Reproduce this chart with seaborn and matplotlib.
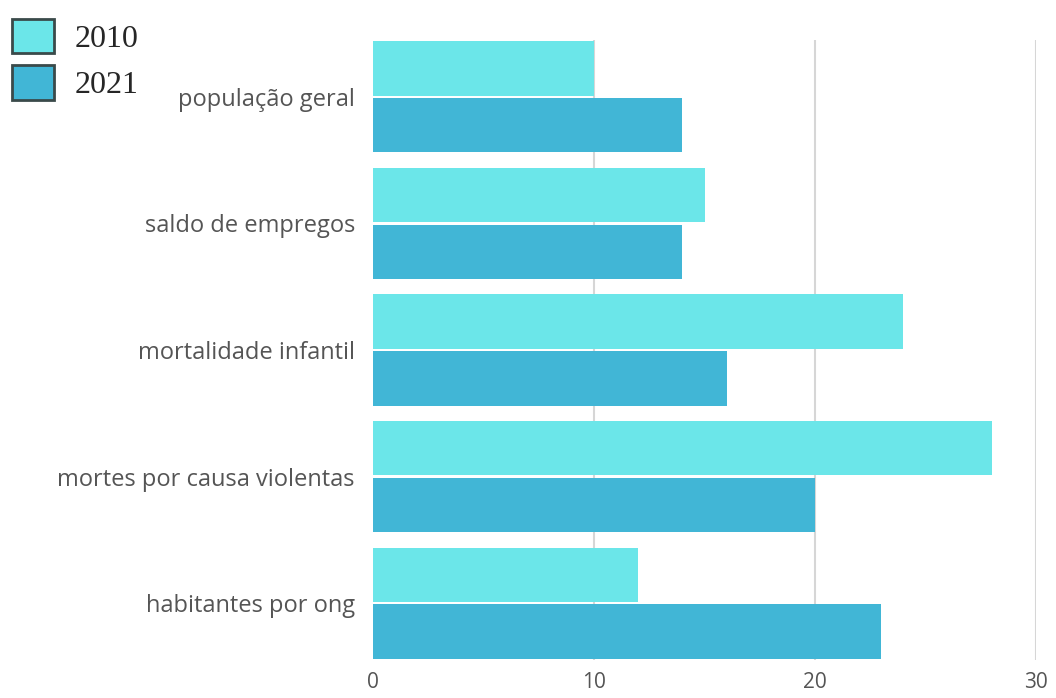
import pandas as pd
import matplotlib.pyplot as plt
import matplotlib.patches as mpatches
import seaborn as sns

# Data
categorias = ['população geral', 'saldo de empregos', 'mortalidade infantil',
              'mortes por causa violentas', 'habitantes por ong']
anos = ['2010', '2021']
valores_2010 = [10, 15, 24, 28, 12]
valores_2021 = [14, 14, 16, 20, 23]

CIANO = "#6BE6E9"
AZUL = "#41B6D6"

df = pd.DataFrame({
    'categoria': categorias * 2,
    'ano': [anos[0]] * len(categorias) + [anos[1]] * len(categorias),
    'valor': valores_2010 + valores_2021,
})

sns.set_theme(style="white")
plt.rcParams['font.family'] = ['Open Sans', 'DejaVu Sans']

fig = plt.figure(figsize=(10.56, 6.98), dpi=100)
ax = fig.add_axes([373/1056, 1 - 660/698, (1036-373)/1056, (660-40)/698])

sns.barplot(data=df, x='valor', y='categoria', hue='ano', orient='h',
            palette=[CIANO, AZUL], width=0.9, gap=0.05, ax=ax,
            legend=False, saturation=1, edgecolor='none', linewidth=0)

ax.set_xlim(0, 30)
ax.set_ylim(4.45, -0.45)
ax.set_xticks([0, 10, 20, 30])
ax.set_xlabel('')
ax.set_ylabel('')
for x in [10, 20, 30]:
    ax.axvline(x, color='#d6d6d6', linewidth=1.5, zorder=0)
for s in ax.spines.values():
    s.set_visible(False)
ax.tick_params(axis='y', length=0, pad=13, labelsize=17, labelcolor='#555555')
ax.tick_params(axis='x', length=0, pad=9, labelsize=15, labelcolor='#555555')

# legend with square swatches in the top-left corner
handles = [mpatches.Patch(facecolor=c, edgecolor='#3a4a4a', linewidth=2, label=a)
           for c, a in zip([CIANO, AZUL], anos)]
fig.legend(handles=handles, loc='upper left', bbox_to_anchor=(-0.008, 1.003),
           frameon=False, handlelength=1.3, handleheight=1.3,
           handletextpad=0.65, labelspacing=0.35, borderpad=0.35, borderaxespad=0.3,
           prop={'family': 'Liberation Serif', 'size': 23})

fig.savefig('out.png', dpi=100)
